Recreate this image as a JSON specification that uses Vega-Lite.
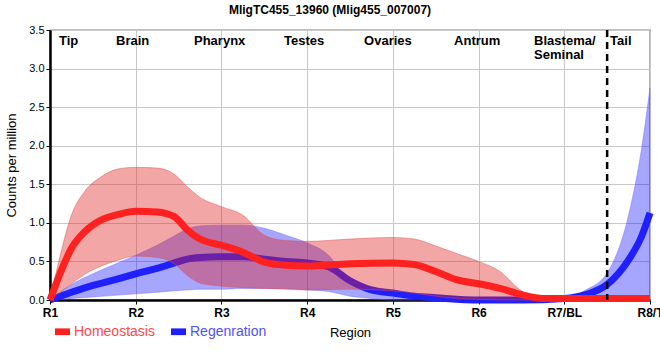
{
  "$schema": "https://vega.github.io/schema/vega-lite/v6.json",
  "autosize": {"type": "none"},
  "padding": {"left": 50, "top": 30, "right": 10, "bottom": 60},
  "width": 600,
  "height": 270,
  "config": {
    "font": "Liberation Sans",
    "view": {"stroke": "black", "strokeWidth": 1.2},
    "axis": {"gridColor": "#c8c8c8", "gridWidth": 1, "domainColor": "black", "domainWidth": 2.5, "tickColor": "black", "tickSize": 4, "labelColor": "black", "titleColor": "black", "titleFontWeight": "normal", "titleFontSize": 13, "labelFont": "Liberation Sans", "titleFont": "Liberation Sans", "labelOverlap": false, "labelBound": false, "labelFlush": false}
  },
  "title": {"text": "MligTC455_13960 (Mlig455_007007)", "fontSize": 12, "fontWeight": "bold", "font": "Liberation Sans", "color": "black", "anchor": "middle", "dx": -20, "offset": 7},
  "datasets": {
    "series": [
      {"cond": "Homeostasis", "pos": 1, "mean": 0, "lo": 0, "hi": 0},
      {"cond": "Homeostasis", "pos": 1.12, "mean": 0.35, "lo": 0.1, "hi": 0.58},
      {"cond": "Homeostasis", "pos": 1.25, "mean": 0.67, "lo": 0.21, "hi": 1.1},
      {"cond": "Homeostasis", "pos": 1.4, "mean": 0.88, "lo": 0.33, "hi": 1.4},
      {"cond": "Homeostasis", "pos": 1.6, "mean": 1.04, "lo": 0.44, "hi": 1.6},
      {"cond": "Homeostasis", "pos": 1.8, "mean": 1.11, "lo": 0.52, "hi": 1.7},
      {"cond": "Homeostasis", "pos": 2, "mean": 1.15, "lo": 0.57, "hi": 1.72},
      {"cond": "Homeostasis", "pos": 2.25, "mean": 1.14, "lo": 0.55, "hi": 1.71},
      {"cond": "Homeostasis", "pos": 2.45, "mean": 1.08, "lo": 0.47, "hi": 1.63},
      {"cond": "Homeostasis", "pos": 2.6, "mean": 0.91, "lo": 0.32, "hi": 1.47},
      {"cond": "Homeostasis", "pos": 2.75, "mean": 0.79, "lo": 0.22, "hi": 1.33},
      {"cond": "Homeostasis", "pos": 3, "mean": 0.71, "lo": 0.18, "hi": 1.21},
      {"cond": "Homeostasis", "pos": 3.25, "mean": 0.62, "lo": 0.16, "hi": 1.1},
      {"cond": "Homeostasis", "pos": 3.5, "mean": 0.49, "lo": 0.15, "hi": 0.84},
      {"cond": "Homeostasis", "pos": 3.75, "mean": 0.45, "lo": 0.14, "hi": 0.77},
      {"cond": "Homeostasis", "pos": 4, "mean": 0.44, "lo": 0.13, "hi": 0.76},
      {"cond": "Homeostasis", "pos": 4.5, "mean": 0.47, "lo": 0.14, "hi": 0.79},
      {"cond": "Homeostasis", "pos": 5, "mean": 0.48, "lo": 0.12, "hi": 0.81},
      {"cond": "Homeostasis", "pos": 5.25, "mean": 0.46, "lo": 0.09, "hi": 0.79},
      {"cond": "Homeostasis", "pos": 5.5, "mean": 0.37, "lo": 0.05, "hi": 0.7},
      {"cond": "Homeostasis", "pos": 5.75, "mean": 0.26, "lo": 0.02, "hi": 0.6},
      {"cond": "Homeostasis", "pos": 6, "mean": 0.21, "lo": 0.01, "hi": 0.5},
      {"cond": "Homeostasis", "pos": 6.25, "mean": 0.15, "lo": 0, "hi": 0.37},
      {"cond": "Homeostasis", "pos": 6.5, "mean": 0.07, "lo": 0, "hi": 0.12},
      {"cond": "Homeostasis", "pos": 6.75, "mean": 0.02, "lo": 0, "hi": 0.03},
      {"cond": "Homeostasis", "pos": 7, "mean": 0.02, "lo": 0, "hi": 0.02},
      {"cond": "Homeostasis", "pos": 7.5, "mean": 0.02, "lo": 0, "hi": 0.02},
      {"cond": "Homeostasis", "pos": 8, "mean": 0.02, "lo": 0, "hi": 0.02},
      {"cond": "Regenration", "pos": 1, "mean": 0, "lo": 0, "hi": 0},
      {"cond": "Regenration", "pos": 1.25, "mean": 0.1, "lo": 0.02, "hi": 0.2},
      {"cond": "Regenration", "pos": 1.5, "mean": 0.19, "lo": 0.04, "hi": 0.34},
      {"cond": "Regenration", "pos": 1.75, "mean": 0.26, "lo": 0.06, "hi": 0.46},
      {"cond": "Regenration", "pos": 2, "mean": 0.34, "lo": 0.08, "hi": 0.58},
      {"cond": "Regenration", "pos": 2.25, "mean": 0.41, "lo": 0.1, "hi": 0.71},
      {"cond": "Regenration", "pos": 2.45, "mean": 0.48, "lo": 0.12, "hi": 0.83},
      {"cond": "Regenration", "pos": 2.6, "mean": 0.53, "lo": 0.13, "hi": 0.92},
      {"cond": "Regenration", "pos": 2.75, "mean": 0.55, "lo": 0.14, "hi": 0.96},
      {"cond": "Regenration", "pos": 3, "mean": 0.56, "lo": 0.14, "hi": 0.97},
      {"cond": "Regenration", "pos": 3.25, "mean": 0.56, "lo": 0.15, "hi": 0.97},
      {"cond": "Regenration", "pos": 3.5, "mean": 0.53, "lo": 0.15, "hi": 0.93},
      {"cond": "Regenration", "pos": 3.75, "mean": 0.5, "lo": 0.15, "hi": 0.84},
      {"cond": "Regenration", "pos": 4, "mean": 0.48, "lo": 0.13, "hi": 0.74},
      {"cond": "Regenration", "pos": 4.25, "mean": 0.43, "lo": 0.11, "hi": 0.58},
      {"cond": "Regenration", "pos": 4.5, "mean": 0.25, "lo": 0.05, "hi": 0.21},
      {"cond": "Regenration", "pos": 4.75, "mean": 0.13, "lo": 0.02, "hi": 0.12},
      {"cond": "Regenration", "pos": 5, "mean": 0.09, "lo": 0, "hi": 0.08},
      {"cond": "Regenration", "pos": 5.25, "mean": 0.05, "lo": 0, "hi": 0.05},
      {"cond": "Regenration", "pos": 5.5, "mean": 0.03, "lo": 0, "hi": 0.03},
      {"cond": "Regenration", "pos": 6, "mean": 0, "lo": 0, "hi": 0.01},
      {"cond": "Regenration", "pos": 6.5, "mean": 0, "lo": 0, "hi": 0.01},
      {"cond": "Regenration", "pos": 7, "mean": 0.02, "lo": 0, "hi": 0.03},
      {"cond": "Regenration", "pos": 7.25, "mean": 0.07, "lo": 0, "hi": 0.13},
      {"cond": "Regenration", "pos": 7.5, "mean": 0.2, "lo": 0, "hi": 0.35},
      {"cond": "Regenration", "pos": 7.75, "mean": 0.52, "lo": 0, "hi": 1.1},
      {"cond": "Regenration", "pos": 7.9, "mean": 0.82, "lo": 0, "hi": 1.95},
      {"cond": "Regenration", "pos": 8, "mean": 1.13, "lo": 0, "hi": 2.75}
    ],
    "regions": [
      {"label": "Tip", "pos": 1.105},
      {"label": "Brain", "pos": 1.77},
      {"label": "Pharynx", "pos": 2.68},
      {"label": "Testes", "pos": 3.73},
      {"label": "Ovaries", "pos": 4.664},
      {"label": "Antrum", "pos": 5.714},
      {"label": "Blastema/\nSeminal", "pos": 6.648},
      {"label": "Tail", "pos": 7.534}
    ]
  },
  "encoding": {
    "x": {"field": "pos", "type": "quantitative", "scale": {"domain": [1, 8], "nice": false, "zero": false},
      "axis": {"values": [1, 2, 3, 4, 5, 6, 7, 8], "labelExpr": "['R1','R2','R3','R4','R5','R6','R7/BL','R8/T'][datum.value-1]", "labelFontSize": 12, "labelFontWeight": "bold", "labelPadding": 3, "title": "Region", "titlePadding": 8, "grid": true}}
  },
  "layer": [
    {
      "data": {"name": "series"},
      "transform": [{"filter": "datum.cond === 'Regenration'"}],
      "mark": {"type": "area", "interpolate": "monotone", "fill": "#0000ff", "fillOpacity": 0.35, "stroke": "#6f6fff", "strokeWidth": 0.8, "strokeOpacity": 0.6},
      "encoding": {
        "y": {"field": "lo", "type": "quantitative", "scale": {"domain": [0, 3.5], "nice": false},
          "axis": {"values": [0, 0.5, 1, 1.5, 2, 2.5, 3, 3.5], "tickCount": 8, "format": ".1f", "labelFontSize": 11, "labelPadding": 2, "title": "Counts per million", "titlePadding": 10, "grid": true}},
        "y2": {"field": "hi"}
      }
    },
    {
      "data": {"name": "series"},
      "transform": [{"filter": "datum.cond === 'Regenration'"}],
      "mark": {"type": "line", "interpolate": "monotone", "strokeWidth": 7},
      "encoding": {
        "y": {"field": "mean", "type": "quantitative"},
        "color": {"field": "cond", "type": "nominal", "scale": {"domain": ["Homeostasis", "Regenration"], "range": ["#ff2020", "#2020ff"]},
          "legend": {"title": null, "orient": "none", "direction": "horizontal", "legendX": 5, "legendY": 294, "symbolType": "M-1,-0.45H1V0.45H-1Z", "symbolSize": 225, "symbolStrokeWidth": 0, "labelFontSize": 14, "labelFont": "Liberation Sans", "labelOffset": 4, "columnPadding": 16,
            "encode": {"symbols": {"update": {"fill": {"scale": "color", "field": "value"}, "fillOpacity": {"value": 1}, "strokeWidth": {"value": 0}}},
                       "labels": {"update": {"fill": {"signal": "datum.value === 'Homeostasis' ? '#ff4848' : '#5050ff'"}}}}}}
      }
    },
    {
      "data": {"name": "series"},
      "transform": [{"filter": "datum.cond === 'Homeostasis'"}],
      "mark": {"type": "area", "interpolate": "monotone", "fill": "#de2020", "fillOpacity": 0.4, "stroke": "#de5050", "strokeWidth": 0.8, "strokeOpacity": 0.6},
      "encoding": {
        "y": {"field": "lo", "type": "quantitative"},
        "y2": {"field": "hi"}
      }
    },
    {
      "data": {"name": "series"},
      "transform": [{"filter": "datum.cond === 'Homeostasis'"}],
      "mark": {"type": "line", "interpolate": "monotone", "strokeWidth": 7},
      "encoding": {
        "y": {"field": "mean", "type": "quantitative"},
        "color": {"field": "cond", "type": "nominal"}
      }
    },
    {
      "data": {"values": [{"pos": 7.5}]},
      "mark": {"type": "rule", "color": "black", "strokeWidth": 2.5, "strokeDash": [7, 5]},
      "encoding": {}
    },
    {
      "data": {"name": "regions"},
      "mark": {"type": "text", "align": "left", "baseline": "alphabetic", "fontSize": 13, "fontWeight": "bold", "font": "Liberation Sans", "color": "black", "lineBreak": "\n", "lineHeight": 14},
      "encoding": {
        "y": {"datum": 3.31},
        "text": {"field": "label"}
      }
    }
  ]
}
